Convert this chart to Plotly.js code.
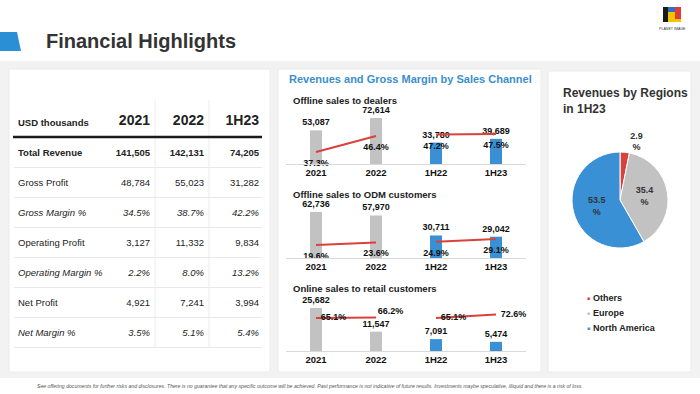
<!DOCTYPE html>
<html><head><meta charset="utf-8">
<script src="https://cdn.plot.ly/plotly-3.0.1.min.js"></script>
<style>html,body{margin:0;padding:0;background:#fff}#chart{width:700px;height:394px}</style>
</head><body><div id="chart"></div>
<script>
// ---------- DATA ----------
const tableCols = ['2021', '2022', '1H23'];
const tableRows = ['Total Revenue', 'Gross Profit', 'Gross Margin %', 'Operating Profit', 'Operating Margin %', 'Net Profit', 'Net Margin %'];
const rowStyles = ['b', 'n', 'i', 'n', 'i', 'n', 'i'];
const val2021 = ['141,505', '48,784', '34.5%', '3,127', '2.2%', '4,921', '3.5%'];
const val2022 = ['142,131', '55,023', '38.7%', '11,332', '8.0%', '7,241', '5.1%'];
const val1H23 = ['74,205', '31,282', '42.2%', '9,834', '13.2%', '3,994', '5.4%'];

const periods = ['2021', '2022', '1H22', '1H23'];
const dealersRevenue = [53087, 72614, 33780, 39689];
const dealersMargin = [37.3, 46.4, 47.2, 47.5];
const odmRevenue = [62736, 57970, 30711, 29042];
const odmMargin = [19.6, 23.6, 24.9, 29.1];
const retailRevenue = [25682, 11547, 7091, 5474];
const retailMargin = [65.1, 66.2, 65.1, 72.6];

const regions = ['Others', 'Europe', 'North America'];
const regionShare = [2.9, 35.4, 53.5];

// ---------- LAYOUT HELPERS ----------
const W = 700, H = 394;
const px = x => x / W, py = y => 1 - y / H;
const FONT = 'Liberation Sans, Arial, sans-serif';
const DARK = '#222222';
const BLUE = '#3a90d4', GRAY = '#c2c2c2', RED = '#d9413b';

const traces = [], annotations = [], shapes = [];
const layout = {
  width: W, height: H, margin: {l: 0, r: 0, t: 0, b: 0},
  paper_bgcolor: '#ffffff', plot_bgcolor: 'rgba(0,0,0,0)',
  font: {family: FONT, color: DARK},
  showlegend: false, bargap: 0.8, hovermode: false
};

// background & panels
shapes.push({type: 'rect', xref: 'paper', yref: 'paper', x0: 0, x1: 1, y0: py(378), y1: py(61), fillcolor: '#f2f2f2', line: {width: 0}, layer: 'below'});
[[9, 69, 270, 372], [278, 69, 541, 372], [548, 71, 691, 372]].forEach(p => {
  shapes.push({type: 'rect', xref: 'paper', yref: 'paper', x0: px(p[0]), x1: px(p[2]), y0: py(p[3]), y1: py(p[1]), fillcolor: '#ffffff', line: {color: '#ebebeb', width: 1}, layer: 'below'});
});
// blue tab
shapes.push({type: 'path', xref: 'paper', yref: 'paper', path: `M 0 ${py(32)} L ${px(17)} ${py(32)} L ${px(21)} ${py(51)} L 0 ${py(51)} Z`, fillcolor: '#2b8fd6', line: {width: 0}});
// logo
shapes.push({type: 'rect', xref: 'paper', yref: 'paper', x0: px(663), x1: px(668), y0: py(22), y1: py(7), fillcolor: '#1a1a1a', line: {width: 0}});
shapes.push({type: 'rect', xref: 'paper', yref: 'paper', x0: px(668), x1: px(675), y0: py(12), y1: py(7), fillcolor: '#2e6fc0', line: {width: 0}});
shapes.push({type: 'rect', xref: 'paper', yref: 'paper', x0: px(675), x1: px(681), y0: py(19), y1: py(7), fillcolor: '#e03a3a', line: {width: 0}});
shapes.push({type: 'path', xref: 'paper', yref: 'paper', path: `M ${px(668)} ${py(12)} L ${px(675)} ${py(12)} L ${px(675)} ${py(19)} L ${px(681)} ${py(19)} L ${px(681)} ${py(22)} L ${px(668)} ${py(22)} Z`, fillcolor: '#f5c400', line: {width: 0}});
annotations.push({xref: 'paper', yref: 'paper', x: px(672), y: py(29), text: 'PLANET IMAGE', showarrow: false, font: {size: 3.6, color: '#333'}, xanchor: 'center', yanchor: 'middle'});

// main title
annotations.push({xref: 'paper', yref: 'paper', x: px(44), y: py(41), text: '<b>Financial Highlights</b>', showarrow: false, font: {size: 20, color: '#333333'}, xanchor: 'left', yanchor: 'middle'});

// footer
annotations.push({xref: 'paper', yref: 'paper', x: px(35), y: py(386), text: '<i>See offering documents for further risks and disclosures. There is no guarantee that any specific outcome will be achieved. Past performance is not indicative of future results. Investments maybe speculative, illiquid and there is a risk of loss.</i>', showarrow: false, font: {size: 5.15, color: '#555'}, xanchor: 'left', yanchor: 'middle'});

// ---------- TABLE (scatter text on its own axes) ----------
// row i center at pixel 154 + 30*i
layout.xaxis4 = {domain: [px(0), px(280)], range: [0, 280], visible: false, fixedrange: true, anchor: 'y4'};
layout.yaxis4 = {domain: [py(370), py(70)], range: [(370 - 154) / 30, (70 - 154) / 30], visible: false, fixedrange: true, anchor: 'x4'};
const styleText = (t, s) => s === 'b' ? `<b>${t}</b>` : s === 'i' ? `<i>${t}</i>` : t;
const rowIdx = tableRows.map((_, i) => i);
traces.push({type: 'scatter', mode: 'text', xaxis: 'x4', yaxis: 'y4', cliponaxis: false,
  x: tableRows.map(() => 18), y: rowIdx, text: tableRows.map((t, i) => styleText(t, rowStyles[i])),
  textposition: 'middle right', textfont: {size: 9.5, color: DARK}, hoverinfo: 'skip'});
const colVals = [val2021, val2022, val1H23];
const colRight = [150, 204, 259];
colVals.forEach((vals, c) => {
  traces.push({type: 'scatter', mode: 'text', xaxis: 'x4', yaxis: 'y4', cliponaxis: false,
    x: vals.map(() => colRight[c]), y: rowIdx, text: vals.map((t, i) => styleText(t, rowStyles[i])),
    textposition: 'middle left', textfont: {size: 9.5, color: DARK}, hoverinfo: 'skip'});
});
traces.push({type: 'scatter', mode: 'text', xaxis: 'x4', yaxis: 'y4', cliponaxis: false,
  x: [18], y: [(124 - 154) / 30], text: ['<b>USD thousands</b>'], textposition: 'middle right',
  textfont: {size: 9.5, color: DARK}, hoverinfo: 'skip'});
traces.push({type: 'scatter', mode: 'text', xaxis: 'x4', yaxis: 'y4', cliponaxis: false,
  x: colRight, y: tableCols.map(() => (121 - 154) / 30), text: tableCols.map(t => `<b>${t}</b>`), textposition: 'middle left',
  textfont: {size: 14, color: DARK}, hoverinfo: 'skip'});
// grid lines
rowIdx.forEach(i => {
  shapes.push({type: 'line', xref: 'x4', yref: 'y4', x0: 14, x1: 262, y0: i + 0.45, y1: i + 0.45, line: {color: '#e8e8e8', width: 1}});
});
[155, 209].forEach(x => {
  shapes.push({type: 'line', xref: 'x4', yref: 'y4', x0: x, x1: x, y0: (100 - 154) / 30, y1: 6.45, line: {color: '#ececec', width: 1}});
});
shapes.push({type: 'line', xref: 'x4', yref: 'y4', x0: 13, x1: 262, y0: (137 - 154) / 30, y1: (137 - 154) / 30, line: {color: '#1a1a1a', width: 2.5}});

// ---------- CHANNEL CHARTS ----------
annotations.push({xref: 'paper', yref: 'paper', x: px(287), y: py(79), text: '<b>Revenues and Gross Margin by Sales Channel</b>', showarrow: false, font: {size: 11, color: '#3b8fcc'}, xanchor: 'left', yanchor: 'middle'});

const BC = 'bottom center', MR = 'middle right', TR = 'top right';
const channels = [
  {name: 'Offline sales to dealers', rev: dealersRevenue, margin: dealersMargin, top: 100, bottom: 164, titleY: 100, revMax: 101000, mRange: [30.47, 66.9], pos: [BC, BC, BC, BC], msize: [10, 10, 10, 10]},
  {name: 'Offline sales to ODM customers', rev: odmRevenue, margin: odmMargin, top: 200, bottom: 258, titleY: 194, revMax: 79100, mRange: [-1, 90.8], pos: [BC, BC, BC, BC], msize: [10, 10, 10, 10]},
  {name: 'Online sales to retail customers', rev: retailRevenue, margin: retailMargin, top: 295, bottom: 351, titleY: 288, revMax: 33447, mRange: [-5.6, 114.3], pos: [MR, TR, MR, MR], msize: [6, 1, 6, 6]}
];
const barColors = [GRAY, GRAY, BLUE, BLUE];
channels.forEach((ch, k) => {
  const n = k + 1, xs = n === 1 ? '' : String(n), ys = xs, ms = String(n + 4);
  layout['xaxis' + xs] = {domain: [px(286), px(526)], anchor: 'y' + ys, type: 'category', categoryarray: periods, categoryorder: 'array',
    showline: true, linecolor: '#d9d9d9', linewidth: 1, ticks: '', showgrid: false, zeroline: false, fixedrange: true,
    tickfont: {size: 9.5, color: '#111', weight: 'bold'}};
  layout['yaxis' + ys] = {domain: [py(ch.bottom), py(ch.top)], anchor: 'x' + xs, range: [0, ch.revMax], visible: false, fixedrange: true};
  layout['yaxis' + ms] = {overlaying: 'y' + ys, anchor: 'x' + xs, range: ch.mRange, visible: false, fixedrange: true};
  annotations.push({xref: 'paper', yref: 'paper', x: px(291), y: py(ch.titleY), text: `<b>${ch.name}</b>`, showarrow: false, font: {size: 9.5, color: DARK}, xanchor: 'left', yanchor: 'middle'});
  traces.push({type: 'bar', x: periods, y: ch.rev, xaxis: 'x' + xs, yaxis: 'y' + ys, marker: {color: barColors},
    text: ch.rev.map(v => v.toLocaleString('en-US')), textposition: 'outside', cliponaxis: false, constraintext: 'none',
    textfont: {size: 9, color: '#111', weight: 'bold'}, hoverinfo: 'skip'});
  [[0, 2], [2, 4]].forEach(([a, b]) => {
    traces.push({type: 'scatter', mode: 'lines+markers+text', x: periods.slice(a, b), y: ch.margin.slice(a, b),
      xaxis: 'x' + xs, yaxis: 'y' + ms, cliponaxis: false,
      line: {color: RED, width: 2}, marker: {size: ch.msize.slice(a, b), color: 'rgba(0,0,0,0)', opacity: 0, line: {width: 0, color: 'rgba(0,0,0,0)'}},
      text: ch.margin.slice(a, b).map(v => v.toFixed(1) + '%'), textposition: ch.pos.slice(a, b),
      textfont: {size: 9, color: '#111', weight: 'bold'}, hoverinfo: 'skip'});
  });
});

// ---------- PIE ----------
annotations.push({xref: 'paper', yref: 'paper', x: px(561), y: py(101), text: '<b>Revenues by Regions<br>in 1H23</b>', showarrow: false, font: {size: 12, color: '#333'}, xanchor: 'left', yanchor: 'middle', align: 'left'});
const regionColors = [RED, GRAY, BLUE];
traces.push({type: 'pie', labels: regions, values: regionShare, sort: false, direction: 'clockwise', rotation: 0,
  domain: {x: [px(572), px(668)], y: [py(248), py(152)]},
  marker: {colors: regionColors, line: {color: '#ffffff', width: 1}},
  text: regionShare.map(v => v.toFixed(1) + '<br>%'), textinfo: 'text', textposition: ['outside', 'inside', 'inside'],
  insidetextorientation: 'horizontal', textfont: {size: 9, color: '#333', weight: 'bold'}, hoverinfo: 'skip', showlegend: false});
regions.forEach((r, i) => {
  const y = 298 + 15 * i;
  annotations.push({xref: 'paper', yref: 'paper', x: px(588), y: py(y), text: '■', showarrow: false, font: {size: 5, color: regionColors[i]}, xanchor: 'center', yanchor: 'middle'});
  annotations.push({xref: 'paper', yref: 'paper', x: px(591), y: py(y), text: `<b>${r}</b>`, showarrow: false, font: {size: 9, color: DARK}, xanchor: 'left', yanchor: 'middle'});
});

layout.annotations = annotations;
layout.shapes = shapes;
Plotly.newPlot('chart', traces, layout, {displayModeBar: false, staticPlot: true});
</script></body></html>
